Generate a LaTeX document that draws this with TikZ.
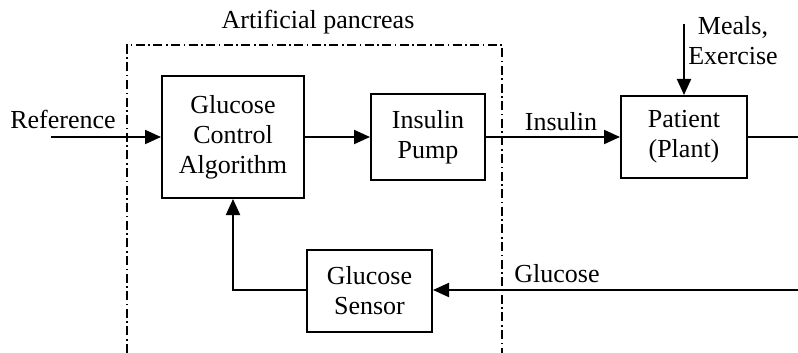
\documentclass[tikz,border=0pt]{standalone}
\usepackage{fontspec}
\setmainfont{Liberation Serif}
\usetikzlibrary{arrows.meta}
\begin{document}
\begin{tikzpicture}[x=1pt,y=-1pt,
  blk/.style={draw,line width=2pt,inner sep=0pt,align=center,font=\fontsize{26}{30}\selectfont},
  lbl/.style={inner sep=0pt,align=center,font=\fontsize{26}{30}\selectfont},
  conn/.style={line width=2pt,-{Triangle[length=16pt,width=14pt]}},
  wire/.style={line width=2pt},
  pancreas/.style={line width=1.6pt,dash pattern=on 9pt off 3.5pt on 1.6pt off 3.5pt}]
\useasboundingbox (0,0) rectangle (798,353);
% blocks
\node[blk,minimum width=142pt,minimum height=122pt] (gca) at (233,137) {Glucose\\Control\\Algorithm};
\node[blk,minimum width=114pt,minimum height=86pt] (pump) at (428,137) {Insulin\\Pump};
\node[blk,minimum width=125pt,minimum height=82pt] (sensor) at (369.5,291) {Glucose\\Sensor};
\node[blk,minimum width=126pt,minimum height=82pt] (patient) at (684,137) {Patient\\(Plant)};
% labels
\node[lbl] (aplabel) at (318,22) {Artificial pancreas};
\node[lbl] (reflabel) at (63,119) {Reference};
\node[lbl] (inslabel) at (561,122) {Insulin};
\node[lbl] (glulabel) at (557,274) {Glucose};
\node[lbl] (meallabel) at (733,41) {Meals,\\Exercise};
% coordinates
\coordinate (refstart) at (51,137);
\coordinate (outend) at (798,137);
\coordinate (glustart) at (798,290);
\coordinate (mealstart) at (684,24);
\coordinate (fbcorner) at (233,290);
% dash-dot boundary
\coordinate (bl) at (127,353);
\coordinate (tl) at (127,45);
\coordinate (tr) at (502,45);
\coordinate (br) at (502,353);
\draw[pancreas] (bl) -- (tl) -- (tr) -- (br);
% connectors
\draw[conn] (refstart) -- (gca.west);
\draw[conn] (gca.east) -- (pump.west);
\draw[conn] (pump.east) -- (patient.west);
\draw[conn] (mealstart) -- (patient.north);
\draw[wire] (patient.east) -- (outend);
\draw[conn] (glustart) -- (sensor.east |- glustart);
\draw[conn] (sensor.west |- fbcorner) -- (fbcorner) -- (gca.south);
\end{tikzpicture}
\end{document}
